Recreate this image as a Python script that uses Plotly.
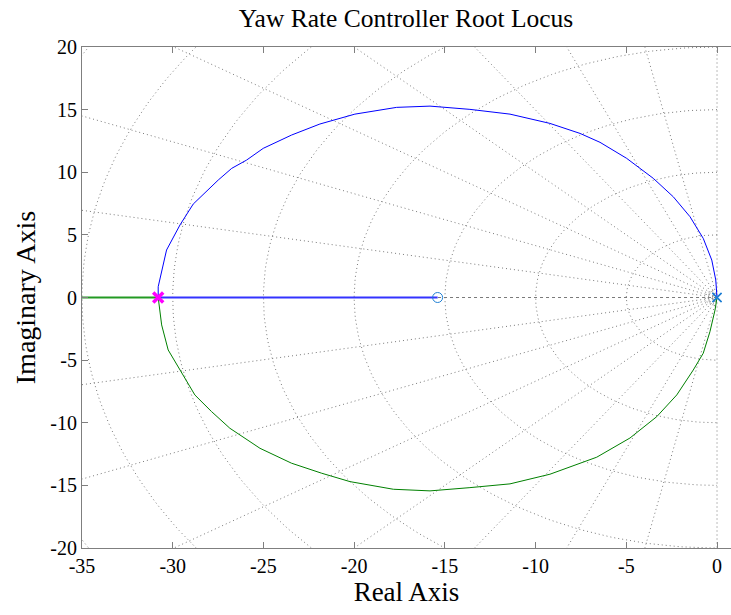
import numpy as np
import plotly.graph_objects as go

# ---- data ----
upper_re = [-30.80, -30.80, -30.34, -29.60, -28.87, -27.49, -26.75, -25.93, -25.01, -23.45,
            -21.89, -19.96, -17.66, -15.82, -13.62, -11.41, -9.21, -7.55, -6.45, -4.98,
            -3.51, -2.41, -1.49, -0.76, -0.29, -0.07, 0.0]
upper_im = [0.0, 0.86, 3.79, 5.79, 7.46, 9.38, 10.31, 10.97, 11.91, 12.97,
            13.85, 14.64, 15.18, 15.28, 15.02, 14.64, 13.90, 13.10, 12.39, 11.11,
            9.51, 8.04, 6.45, 4.72, 2.99, 1.40, 0.0]
lower_re = [-30.80, -30.61, -30.25, -29.51, -28.78, -27.86, -26.85, -25.19, -23.45, -21.79,
            -20.23, -17.84, -15.82, -13.62, -11.41, -9.21, -6.63, -4.80, -3.32, -2.22,
            -1.31, -0.76, -0.39, -0.11, 0.0]
lower_im = [0.0, -2.19, -4.19, -6.05, -7.78, -9.11, -10.44, -12.04, -13.23, -14.03,
            -14.70, -15.31, -15.44, -15.18, -14.88, -14.11, -12.75, -11.22, -9.51, -7.78,
            -5.79, -4.45, -2.73, -1.00, 0.0]
breakin = -30.80
zero_re = -15.40
pole_re = [0.0, 0.0]
left_end = -40.0

# s-plane grid values
wn_values = [0.3, 0.5, 0.65, 5, 10, 15, 20, 25, 30, 35, 40]
zeta_angles_deg = [11.25, 22.5, 33.75, 45, 56.25, 67.5, 78.75]

x_ticks = [-35, -30, -25, -20, -15, -10, -5, 0]
x_labels = ["-35", "-30", "-25", "-20", "-15", "-10", "-5", "0"]
y_ticks = [-20, -15, -10, -5, 0, 5, 10, 15, 20]
y_labels = ["-20", "-15", "-10", "-5", "0", "5", "10", "15", "20"]

grid_col = "#7a7a7a"
grid_line = dict(color=grid_col, width=1, dash="1px,3px")
fig = go.Figure()

# natural frequency semicircles
for wn in wn_values:
    th = np.linspace(np.pi / 2, 3 * np.pi / 2, 200)
    fig.add_trace(go.Scatter(x=wn * np.cos(th), y=wn * np.sin(th), mode="lines",
                             line=grid_line, hoverinfo="skip", showlegend=False))
# damping rays
R = 80
for a in zeta_angles_deg:
    ar = np.deg2rad(a)
    for sgn in (1, -1):
        fig.add_trace(go.Scatter(x=[0, -R * np.cos(ar)], y=[0, sgn * R * np.sin(ar)], mode="lines",
                                 line=grid_line, hoverinfo="skip", showlegend=False))
# imaginary axis (zeta = 0)
fig.add_trace(go.Scatter(x=[0, 0], y=[-R, R], mode="lines",
                         line=grid_line, hoverinfo="skip", showlegend=False))
# real axis (zeta = 1), visible right of the zero
fig.add_trace(go.Scatter(x=[0, zero_re], y=[0, 0], mode="lines",
                         line=dict(color=grid_col, width=1, dash="3px,3px"),
                         hoverinfo="skip", showlegend=False))

# loci
fig.add_trace(go.Scatter(x=upper_re, y=upper_im, mode="lines",
                         line=dict(color="#0000ff", width=1), showlegend=False))
fig.add_trace(go.Scatter(x=[breakin, zero_re], y=[0, 0], mode="lines",
                         line=dict(color="#3333ff", width=1.8), showlegend=False))
fig.add_trace(go.Scatter(x=lower_re, y=lower_im, mode="lines",
                         line=dict(color="#008000", width=1), showlegend=False))
fig.add_trace(go.Scatter(x=[breakin, left_end], y=[0, 0], mode="lines",
                         line=dict(color="#239a23", width=1.8), showlegend=False))

# markers
fig.add_trace(go.Scatter(x=[zero_re], y=[0], mode="markers",
                         marker=dict(symbol="circle-open", size=10, color="#1f7fd4", line=dict(width=1)),
                         showlegend=False))
fig.add_trace(go.Scatter(x=pole_re, y=[0, 0], mode="markers",
                         marker=dict(symbol="x-thin-open", size=9, color="#1f7fd4", line=dict(width=1.5)),
                         showlegend=False))
fig.add_trace(go.Scatter(x=[breakin], y=[0], mode="markers",
                         marker=dict(symbol="x-thin-open", size=10, color="#ff00ff", line=dict(width=3.5)),
                         showlegend=False))

font_family = "Liberation Serif, DejaVu Serif, serif"
axis_common = dict(showgrid=False, zeroline=False, showline=True, linecolor="#7f7f7f", linewidth=1,
                   ticks="inside", ticklen=6, tickcolor="#7f7f7f",
                   tickfont=dict(family=font_family, size=20, color="black"))
fig.update_layout(
    width=731, height=615,
    margin=dict(l=82, r=0, t=47, b=67),
    paper_bgcolor="white", plot_bgcolor="white",
    title=dict(text="Yaw Rate Controller Root Locus", x=406 / 731, xanchor="center", xref="container",
               y=1 - 18 / 615, yanchor="middle", font=dict(family=font_family, size=25.5, color="black")),
    xaxis=dict(range=[-35, 0.77], tickvals=x_ticks, ticktext=x_labels, mirror="ticks",
               title=dict(text="Real Axis", font=dict(family=font_family, size=27, color="black"), standoff=5),
               **axis_common),
    yaxis=dict(range=[-20, 20], tickvals=y_ticks, ticktext=y_labels, mirror=False,
               title=dict(text="Imaginary Axis", font=dict(family=font_family, size=28, color="black"), standoff=6),
               **axis_common),
)
fig.write_html("out.html")
